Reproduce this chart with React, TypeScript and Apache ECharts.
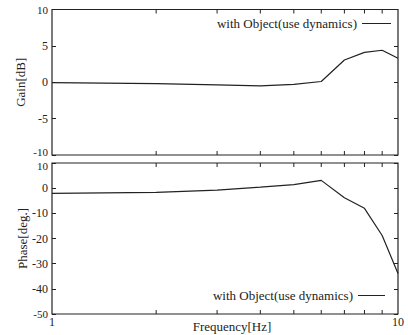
import React, { useEffect, useRef } from "react";
import * as echarts from "echarts";

const freqs = [1, 2, 3, 4, 5, 6, 7, 8, 9, 10];
const gainDb = [-0.05, -0.2, -0.35, -0.5, -0.3, 0.1, 3.05, 4.1, 4.4, 3.3];
const phaseDeg = [-2.1, -1.7, -0.8, 0.4, 1.4, 3.1, -3.8, -8.0, -18.8, -33.9];
const minorFreqs = [2, 3, 4, 5, 6, 7, 8, 9];
const seriesName = "with Object(use dynamics)";

const FONT = "'Liberation Serif', 'Times New Roman', serif";
const INK = "#222";

function tickSeries(gridIndex: number) {
  return {
    type: "custom",
    name: "ticks" + gridIndex,
    xAxisIndex: gridIndex,
    yAxisIndex: gridIndex * 2,
    silent: true,
    clip: false,
    data: minorFreqs.map((f) => [f, 0]),
    renderItem: (params: any, api: any) => {
      const x = api.coord([api.value(0), api.value(1)])[0];
      const cs = params.coordSys;
      const len = 4;
      const style = { stroke: INK, lineWidth: 1 };
      return {
        type: "group",
        children: [
          { type: "line", shape: { x1: x, y1: cs.y, x2: x, y2: cs.y + len }, style },
          { type: "line", shape: { x1: x, y1: cs.y + cs.height, x2: x, y2: cs.y + cs.height - len }, style },
        ],
      };
    },
  };
}

export default function App() {
  const ref = useRef<HTMLDivElement>(null);
  useEffect(() => {
    document.body.style.margin = "0";
    const chart = echarts.init(ref.current!, undefined, { renderer: "svg" });
    const yLeft = (
      gi: number,
      min: number,
      max: number,
      interval: number,
      name: string,
      gap: number,
      topShift: number,
      bottomShift: number
    ) => ({
      type: "value",
      gridIndex: gi,
      min,
      max,
      interval,
      position: "left",
      name,
      nameLocation: "middle",
      nameGap: gap,
      nameMoveOverlap: false,
      nameTextStyle: { fontFamily: FONT, fontSize: 13, color: INK },
      axisLine: { show: false },
      axisTick: { show: true, inside: true, length: 4, lineStyle: { color: INK } },
      axisLabel: {
        fontFamily: FONT,
        fontSize: 12,
        lineHeight: 8,
        color: INK,
        margin: 4,
        formatter: (v: number) => (v === min ? "{lo|" + v + "}" : v === max ? "{hi|" + v + "}" : String(v)),
        rich: {
          lo: { fontFamily: FONT, fontSize: 11, lineHeight: 4, color: INK, padding: [0, 0, bottomShift, 0] },
          hi: { fontFamily: FONT, fontSize: 11, lineHeight: 4, color: INK, padding: [topShift, 0, 0, 0] },
        },
      },
      splitLine: { show: false },
    });
    const yRight = (gi: number, min: number, max: number, interval: number) => ({
      type: "value",
      gridIndex: gi,
      min,
      max,
      interval,
      position: "right",
      axisLine: { show: false },
      axisTick: { show: true, inside: true, length: 4, lineStyle: { color: INK } },
      axisLabel: { show: false },
      splitLine: { show: false },
    });
    const legendBase = {
      data: [seriesName],
      itemHeight: 1,
      icon: "rect",
      align: "right",
      padding: 0,
      itemStyle: { color: INK },
      textStyle: { fontFamily: FONT, fontSize: 13, color: INK },
      selectedMode: false,
    };
    chart.setOption({
      animation: false,
      textStyle: { fontFamily: FONT },
      grid: [
        { left: 52, top: 9.5, width: 346, height: 145.5, show: true, borderColor: INK, borderWidth: 1.2 },
        { left: 52, top: 163, width: 346, height: 151, show: true, borderColor: INK, borderWidth: 1.2 },
      ],
      legend: [
        { ...legendBase, right: 17, top: 17, itemWidth: 29 },
        { ...legendBase, right: 23, top: 289, itemWidth: 27 },
      ],
      xAxis: [
        {
          type: "log",
          logBase: 10,
          gridIndex: 0,
          min: 1,
          max: 10,
          axisLine: { show: false },
          axisTick: { show: false },
          axisLabel: { show: false },
          splitLine: { show: false },
        },
        {
          type: "log",
          logBase: 10,
          gridIndex: 1,
          min: 1,
          max: 10,
          name: "Frequency[Hz]",
          nameLocation: "middle",
          nameGap: 6,
          nameMoveOverlap: false,
          nameTextStyle: { fontFamily: FONT, fontSize: 13, color: INK, padding: [0, 0, 0, 14] },
          axisLine: { show: false },
          axisTick: { show: false },
          axisLabel: { fontFamily: FONT, fontSize: 12, color: INK, margin: 2 },
          splitLine: { show: false },
        },
      ],
      yAxis: [
        yLeft(0, -10, 10, 5, "Gain[dB]", 25, 0, 6),
        yRight(0, -10, 10, 5),
        yLeft(1, -50, 10, 10, "Phase[deg.]", 23.5, 5, 0),
        yRight(1, -50, 10, 10),
      ],
      series: [
        {
          type: "line",
          name: seriesName,
          xAxisIndex: 0,
          yAxisIndex: 0,
          data: freqs.map((f, i) => [f, gainDb[i]]),
          symbol: "none",
          lineStyle: { color: INK, width: 1.2 },
          itemStyle: { color: INK },
        },
        {
          type: "line",
          name: seriesName,
          xAxisIndex: 1,
          yAxisIndex: 2,
          data: freqs.map((f, i) => [f, phaseDeg[i]]),
          symbol: "none",
          lineStyle: { color: INK, width: 1.2 },
          itemStyle: { color: INK },
        },
        tickSeries(0),
        tickSeries(1),
      ],
    });
    return () => chart.dispose();
  }, []);
  return <div ref={ref} style={{ width: 408, height: 335 }} />;
}
